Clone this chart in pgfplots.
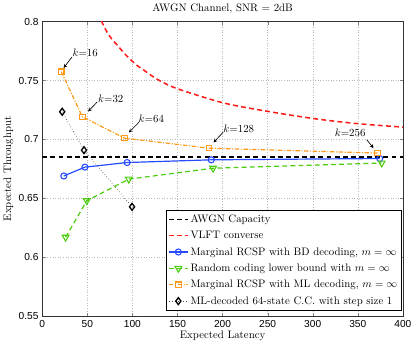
\documentclass[border=0pt]{standalone}
\usepackage{pgfplots}
\pgfplotsset{compat=1.18}
\usepackage{fontspec}
\newfontfamily\ticksf{Liberation Sans}
\definecolor{myblue}{rgb}{0.15,0.3,1}
\definecolor{mygreen}{rgb}{0.3,0.8,0.05}
\definecolor{myorange}{rgb}{1,0.6,0.1}
\definecolor{myred}{rgb}{1,0.1,0.1}
\begin{document}
\begin{tikzpicture}
\begin{axis}[
 scale only axis, width=333pt, height=272pt,
 xmin=0,xmax=400,ymin=0.55,ymax=0.8,
 xtick={0,50,...,400}, ytick={0.55,0.6,0.65,0.7,0.75,0.8},
 yticklabel style={/pgf/number format/fixed, /pgf/number format/precision=2},
 tick label style={font=\ticksf\fontsize{9.4}{11}\selectfont},
 /pgf/number format/assume math mode=true,
 grid=major, major grid style={gray!55, dotted},
 tick align=inside, major tick length=3pt,
 axis line style={black!80},
 title={AWGN Channel, SNR = 2dB},
 title style={yshift=-2pt},
 xlabel={Expected Latency}, ylabel={Expected Throughput},
 xlabel style={yshift=3pt}, ylabel style={yshift=-2pt},
 legend style={at={(0.997,0.02)}, anchor=south east, font=\normalsize, draw=black, inner sep=2pt, row sep=2.6pt},
 legend cell align=left,
]
\addplot[black, line width=1.4pt, dash pattern=on 4.5pt off 3pt] coordinates {(0,0.685)(400,0.685)};
\addlegendentry{AWGN Capacity}
\addplot[myred, line width=1.4pt, dash pattern=on 4.5pt off 3pt, smooth] coordinates {
(65.6,0.8006)(71.1,0.7921)(77.4,0.7849)(84.1,0.7793)(90.3,0.7736)(97.8,0.7679)(104.4,0.7632)(112.6,0.7589)(119.2,0.7552)(130,0.750)(150,0.743)(201,0.731)(251,0.7237)(303,0.7175)(351,0.7133)(400,0.7105)};
\addlegendentry{VLFT converse}
\addplot[myblue, line width=1.1pt, mark=o, mark size=2.8pt, mark options={solid, line width=1pt}] coordinates {
(23.9,0.669)(47.3,0.6765)(94.1,0.6804)(187.5,0.6827)(374.3,0.6838)};
\addlegendentry{Marginal RCSP with BD decoding, $m=\infty$}
\addplot[mygreen, line width=1.1pt, dash pattern=on 4.5pt off 3pt, mark=triangle, mark size=3.6pt, mark options={solid, rotate=180, line width=1pt}] coordinates {
(25.9,0.617)(49.4,0.648)(96.0,0.6663)(189.5,0.6756)(376.5,0.680)};
\addlegendentry{Random coding lower bound with $m=\infty$}
\addplot[myorange, line width=1.1pt, dash pattern=on 4pt off 1.5pt on 1pt off 1.5pt, mark=square, mark size=2.5pt, mark options={solid, line width=1pt}] coordinates {
(21.1,0.7575)(44.5,0.7192)(91.3,0.7011)(184.8,0.6926)(371.9,0.6884)};
\addlegendentry{Marginal RCSP with ML decoding, $m=\infty$}
\addplot[black!70, line width=0.6pt, dotted, mark=diamond, mark size=3.2pt, mark options={solid, black, line width=1.2pt}] coordinates {
(22.1,0.7235)(46.3,0.6909)(99.6,0.6428)};
\addlegendentry{ML-decoded 64-state C.C. with step size 1}
\draw[->, >=stealth, semithick] (33,0.770) -- (23.7,0.7606);
\node at (47.6,0.7734) {$k$=16};
\draw[->, >=stealth, semithick] (60.8,0.7317) -- (50.8,0.7237);
\node at (76,0.7345) {$k$=32};
\draw[->, >=stealth, semithick] (107,0.7144) -- (96,0.7059);
\node at (121,0.7173) {$k$=64};
\draw[->, >=stealth, semithick] (200.7,0.7062) -- (190,0.6974);
\node at (218,0.7088) {$k$=128};
\draw[->, >=stealth, semithick] (360,0.6997) -- (367.4,0.6926);
\node at (341.5,0.7053) {$k$=256};
\end{axis}
\end{tikzpicture}
\end{document}
